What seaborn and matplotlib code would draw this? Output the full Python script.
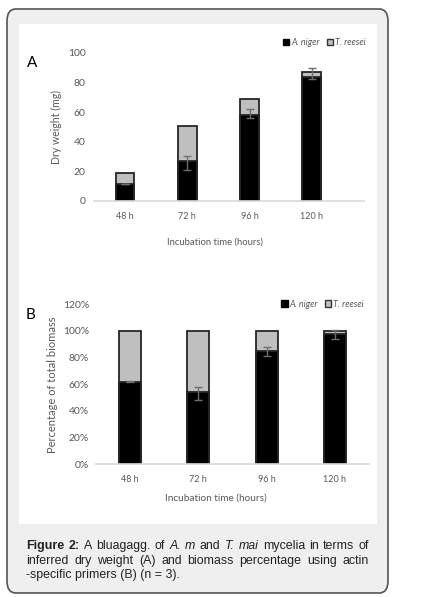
import numpy as np
import matplotlib
matplotlib.use("Agg")
import matplotlib.pyplot as plt
import seaborn as sns
from matplotlib.patches import Patch, FancyBboxPatch, Rectangle
from matplotlib.ticker import FuncFormatter


hours = ["48 h", "72 h", "96 h", "120 h"]

# panel A: dry weight (mg)
niger_mg = [11.5, 27.3, 58.2, 84.0]
reesei_mg = [7.7, 23.5, 10.7, 3.0]
err_mg_lo = [0.0, 6.3, 2.2, 1.6]
err_mg_hi = [0.0, 3.2, 3.8, 5.8]

# panel B: percentage of total biomass
niger_pct = [62, 54, 85, 98]
reesei_pct = [38, 46, 15, 2]
err_pct_lo = [0.3, 5.8, 3.4, 4.3]
err_pct_hi = [0.3, 3.7, 3.0, 3.0]

W, H = 435, 597
BLACK = "#000000"
GRAY = "#bfbfbf"
EDGE = "#262626"
TXT = "#595959"

sns.set_style("white")
plt.rcParams["font.family"] = ["Lato", "DejaVu Sans"]

fig = plt.figure(figsize=(W / 100, H / 100), dpi=100)
fig.patch.set_facecolor("white")


def px(x, y):
    return x / W, 1 - y / H


# frame and white panel
x0, y0 = px(7, 593)
fig.patches.append(FancyBboxPatch((x0, y0), 381 / W, 584 / H,
                                  boxstyle="round,pad=0,rounding_size=0.02",
                                  transform=fig.transFigure, facecolor="#efefef",
                                  edgecolor="#555555", lw=1.2, zorder=-2))
x1, y1 = px(19, 524)
fig.patches.append(Rectangle((x1, y1), 358 / W, 500 / H, transform=fig.transFigure,
                             facecolor="white", edgecolor="none", zorder=-1))


def stacked(ax, niger, reesei, lo, hi, bw):
    total = [a + b for a, b in zip(niger, reesei)]
    sns.barplot(x=hours, y=total, color=GRAY, saturation=1, width=bw,
                edgecolor=EDGE, linewidth=1.3, ax=ax)
    sns.barplot(x=hours, y=niger, color=BLACK, saturation=1, width=bw,
                edgecolor=EDGE, linewidth=1.3, ax=ax)
    ax.errorbar(np.arange(len(hours)), niger, yerr=[lo, hi], fmt="none",
                ecolor="#6e6e6e", elinewidth=1, capsize=3, capthick=1,
                zorder=5, clip_on=False)
    ax.set_facecolor("none")
    for s in ["top", "right", "left"]:
        ax.spines[s].set_visible(False)
    ax.spines["bottom"].set_color("#d9d9d9")
    ax.spines["bottom"].set_linewidth(1.2)
    ax.tick_params(length=0, colors=TXT)
    ax.tick_params(axis="x", labelsize=6.5, pad=8)
    ax.tick_params(axis="y", labelsize=7.5)
    leg = ax.legend(handles=[Patch(facecolor=BLACK, edgecolor=BLACK, label="A. niger"),
                             Patch(facecolor=GRAY, edgecolor="#333333", label="T. reesei")],
                    ncol=2, frameon=False, handlelength=0.7, handleheight=0.7,
                    handletextpad=0.2, columnspacing=0.8, borderaxespad=0,
                    prop={"style": "italic", "size": 6.5})
    for t in leg.get_texts():
        t.set_color(TXT)
    return leg


# Panel A
axA = fig.add_axes([94 / W, 1 - 201 / H, 270 / W, 148 / H])
legA = stacked(axA, niger_mg, reesei_mg, err_mg_lo, err_mg_hi, 0.30)
legA.set_loc("center right")
legA.set_bbox_to_anchor((1.02, 1.068))
axA.set_xlim(-0.5, 3.84)
axA.set_ylim(0, 100)
axA.set_yticks([0, 20, 40, 60, 80, 100])
axA.tick_params(axis="y", pad=6)
axA.set_ylabel("Dry weight (mg)", fontsize=7.6, color=TXT)
axA.yaxis.set_label_coords(-0.12, 0.5)
axA.set_xlabel("Incubation time (hours)", fontsize=6.8, color=TXT)
axA.xaxis.set_label_coords(0.448, -0.245)
fig.text(*px(32, 63), "A", fontsize=11, ha="center", va="center", color="black")

# Panel B
axB = fig.add_axes([96 / W, 1 - 464.3 / H, 273 / W, 160 / H])
legB = stacked(axB, niger_pct, reesei_pct, err_pct_lo, err_pct_hi, 0.32)
legB.set_loc("center right")
legB.set_bbox_to_anchor((0.995, 1.0))
axB.set_xlim(-0.5, 3.5)
axB.set_ylim(0, 120)
axB.set_yticks(range(0, 121, 20))
axB.yaxis.set_major_formatter(FuncFormatter(lambda v, p: f"{v:.0f}%"))
axB.tick_params(axis="y", pad=5)
axB.set_ylabel("Percentage of total biomass", fontsize=8, color=TXT)
axB.yaxis.set_label_coords(-0.139, 0.5)
axB.set_xlabel("Incubation time (hours)", fontsize=7.2, color=TXT)
axB.xaxis.set_label_coords(0.44, -0.185)
fig.text(*px(31, 315), "B", fontsize=11, ha="center", va="center", color="black")

# caption, justified word by word
cap_font = ["Liberation Sans", "DejaVu Sans"]
line1 = [("Figure", "bold", "normal"), ("2:", "bold", "normal"), ("A", "normal", "normal"),
         ("bluagagg.", "normal", "normal"), ("of", "normal", "normal"),
         ("A.", "normal", "italic"), ("m", "normal", "italic"), ("and", "normal", "normal"),
         ("T.", "normal", "italic"), ("mai", "normal", "italic"),
         ("mycelia", "normal", "normal"), ("in", "normal", "normal"),
         ("terms", "normal", "normal"), ("of", "normal", "normal")]
line2 = [(w, "normal", "normal") for w in
         "inferred dry weight (A) and biomass percentage using actin".split()]

renderer = fig.canvas.get_renderer()
left, right = 26, 369
CAP = 8.9
for words, ybase in [(line1, 549), (line2, 564)]:
    texts = []
    for w, wt, st in words:
        t = fig.text(0, 1 - ybase / H, w, fontsize=CAP, weight=wt, style=st,
                     family=cap_font, color="#222222", va="baseline", ha="left")
        texts.append(t)
    widths = [t.get_window_extent(renderer).width for t in texts]
    gap = (right - left - sum(widths)) / (len(texts) - 1)
    x = left
    for t, w in zip(texts, widths):
        t.set_x(x / W)
        x += w + gap
fig.text(left / W, 1 - 578 / H, "-specific primers (B) (n = 3).", fontsize=CAP,
         family=cap_font, color="#222222", va="baseline", ha="left")

fig.savefig("out.png", dpi=100)
